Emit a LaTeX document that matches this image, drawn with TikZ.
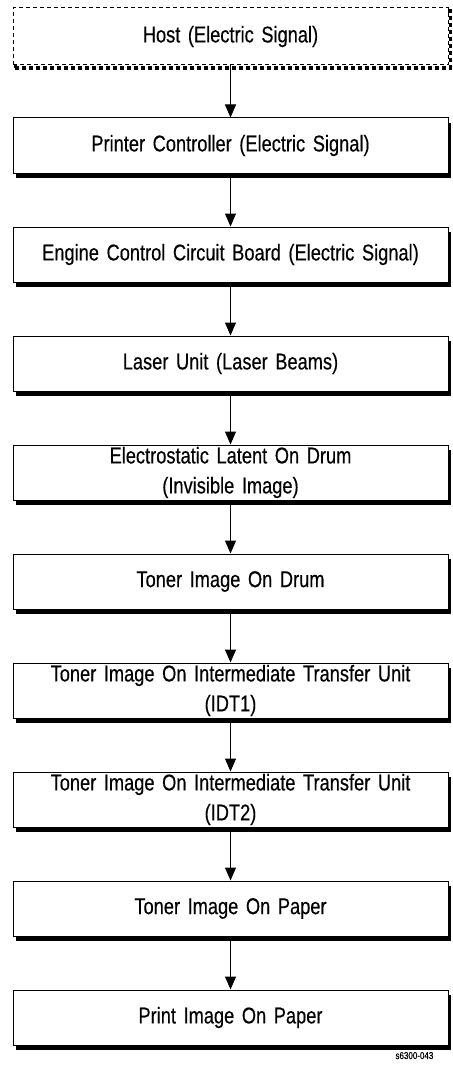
\documentclass[tikz,border=0pt]{standalone}
\usepackage{fontspec}
\setmainfont{Liberation Sans}[FakeStretch=0.8,FakeBold=0.4,WordSpace=1.3]
\usetikzlibrary{arrows.meta,shadows}

\begin{document}
\begin{tikzpicture}[->,>={Triangle[length=6.5pt,width=5.5pt]},line width=0.5pt,node distance=54.5pt,
    box node/.style={draw,fill=white,rectangle,minimum width=217.5pt,minimum height=27.5pt,inner xsep=2pt,inner ysep=0pt,
        text width=210pt,align=center,font=\fontsize{11.4}{15}\selectfont,
        drop shadow={shadow xshift=1.3pt,shadow yshift=-2.3pt,opacity=1,fill=black}},
    host node/.style={draw,fill=white,rectangle,minimum width=217.5pt,minimum height=28.5pt,inner xsep=2pt,inner ysep=0pt,
        text width=210pt,align=center,font=\fontsize{11.4}{15}\selectfont,dash pattern=on 2pt off 1.5pt,
        drop shadow={shadow xshift=1.2pt,shadow yshift=-1.5pt,opacity=1,fill=none,draw=black,line width=1.8pt,dash pattern=on 2pt off 1.5pt}}]
                \useasboundingbox (0,0) rectangle (226pt,-532.5pt);
                \node[host node] (1) at (115.25pt,-18.25pt) {Host (Electric Signal)};
                \node[box node] (2) [below of=1] {Printer Controller (Electric Signal)};
                \node[box node] (3) [below of=2] {Engine Control Circuit Board (Electric Signal)};
                \node[box node] (4) [below of=3] {Laser Unit (Laser Beams)};
                \node[box node] (5) [below of=4] {Electrostatic Latent On Drum\\(Invisible Image)};
                \node[box node] (6) [below of=5] {Toner Image On Drum};
                \node[box node] (7) [below of=6] {Toner Image On Intermediate Transfer Unit\\(IDT1)};
                \node[box node] (8) [below of=7] {Toner Image On Intermediate Transfer Unit\\(IDT2)};
                \node[box node] (9) [below of=8] {Toner Image On Paper};
                \node[box node] (10) [below of=9] {Print Image On Paper};
                \node[anchor=base west,inner sep=0pt,font=\fontsize{5}{6}\selectfont] (tag) at (197.5pt,-529.5pt) {s6300-043};

                \path
                    (1) edge (2)
                    (2) edge (3)
                    (3) edge (4)
                    (4) edge (5)
                    (5) edge (6)
                    (6) edge (7)
                    (7) edge (8)
                    (8) edge (9)
                    (9) edge (10)
                    ;
            \end{tikzpicture}
\end{document}
